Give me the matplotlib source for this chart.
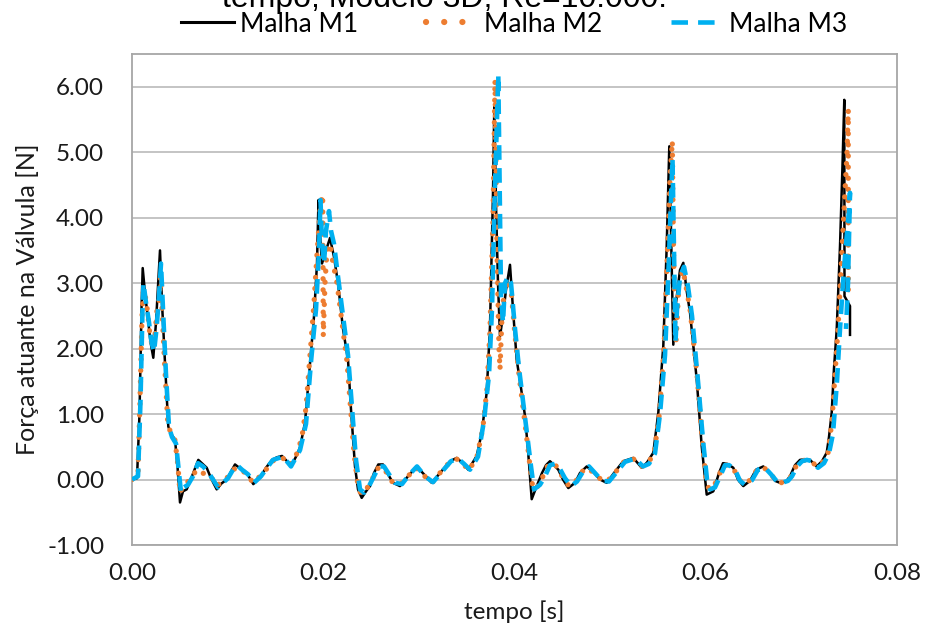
import matplotlib
matplotlib.use('Agg')
import matplotlib.pyplot as plt
from matplotlib.lines import Line2D

# Data (pixel x -> time [s], force [N])
px_m1 = [132, 137, 139.5, 141.5, 142.7, 145, 148, 150.5, 153.3, 156, 158.5, 160, 162, 165, 168.3, 171, 175,
         177.5, 180, 183, 186.7, 192, 198.3, 202.5, 206.7, 211, 216.7, 221.5, 226.7, 231, 235, 241, 246.7,
         253.3, 260, 266, 272, 277, 282, 287, 291, 296, 300, 305, 310, 314, 317, 318.5, 320, 322, 325, 330,
         334, 338, 343, 348, 351, 355, 358, 361.7, 366, 370, 374, 378.3, 383, 388, 393, 400, 408, 416.7, 424,
         431.7, 440, 450, 456.7, 462, 468.3, 476.7, 481.7, 486.7, 490, 493, 494.3, 496, 498, 500, 503, 506,
         510, 513, 516.7, 521, 525, 528, 531.7, 536.7, 542, 546, 550, 554, 558.3, 563, 568.3, 575, 580,
         586.7, 593, 600, 606.7, 615, 623.3, 633.3, 641.7, 647, 653.3, 658.3, 663.3, 666.7, 669.3, 671,
         673.3, 676, 680, 683.3, 686.5, 690, 696.7, 701.7, 706.7, 713.3, 719, 723, 727, 733.3, 738, 743.3,
         750, 756, 763.3, 770, 775, 780, 786, 790, 795, 800, 805, 810, 816.7, 822, 826.7, 829, 831.7, 834,
         836.7, 840, 842.5, 844.3, 844.5, 850, 850]
f_m1 = [0.00, 0.02, 1.00, 2.60, 3.23, 2.85, 2.45, 2.10, 1.86, 2.40, 3.10, 3.50, 2.70, 1.78, 0.81, 0.70, 0.61,
        0.20, -0.35, -0.18, -0.15, 0.05, 0.30, 0.24, 0.18, 0.02, -0.15, -0.06, 0.00, 0.12, 0.23, 0.16, 0.10,
        -0.07, 0.03, 0.18, 0.30, 0.34, 0.36, 0.28, 0.20, 0.35, 0.49, 0.87, 1.78, 2.49, 3.30, 4.27, 3.75, 3.30,
        3.45, 3.69, 3.40, 3.00, 2.30, 1.83, 1.07, 0.20, -0.15, -0.28, -0.18, -0.10, 0.10, 0.23, 0.23, 0.08,
        -0.05, -0.10, 0.05, 0.20, 0.08, -0.05, 0.10, 0.28, 0.33, 0.26, 0.15, 0.36, 0.71, 1.33, 2.34, 4.38,
        5.70, 4.20, 3.00, 2.19, 2.50, 2.90, 3.28, 2.60, 1.83, 1.40, 0.97, 0.45, -0.30, -0.10, 0.10, 0.22,
        0.28, 0.22, 0.15, 0.00, -0.13, -0.05, 0.10, 0.20, 0.12, 0.00, -0.05, 0.12, 0.28, 0.33, 0.18, 0.26,
        0.41, 1.02, 2.04, 3.56, 5.09, 3.80, 2.06, 2.70, 3.20, 3.31, 2.90, 2.55, 1.53, 0.51, -0.23, -0.18,
        0.10, 0.25, 0.24, 0.18, 0.00, -0.10, -0.02, 0.15, 0.20, 0.10, -0.02, -0.05, -0.03, 0.05, 0.22, 0.30,
        0.31, 0.30, 0.20, 0.28, 0.41, 0.65, 1.02, 1.70, 2.29, 3.56, 4.80, 5.80, 2.80, 2.65, 2.21]

px_m2 = [132, 138, 140, 142, 143.5, 146, 148, 150, 153, 155, 157, 159, 160.5, 162, 164.5, 168, 172, 175, 178,
         180, 183, 187, 192, 197, 202, 207, 212, 216, 221, 226, 231, 236, 241, 247, 253, 260, 266, 272, 282,
         290, 297, 302, 306, 310, 314, 317, 320.5, 322.7, 323.3, 325, 327, 330, 333, 337, 342, 347, 350, 354,
         358, 361, 366, 371, 376, 381, 386, 392, 400, 408, 416, 424, 432, 441, 450, 457, 463, 469, 477, 483,
         487, 490, 493, 495, 497, 499, 500, 502, 505, 508, 511, 515, 519, 523, 527, 530, 533, 538, 543, 548,
         553, 558, 563, 569, 576, 582, 587, 594, 601, 607, 615, 623, 633, 642, 648, 654, 659, 664, 667, 670,
         672.3, 673.5, 675, 676, 679, 683, 686, 690, 697, 702, 706, 709, 714, 720, 724, 728, 734, 739, 744,
         751, 757, 764, 770, 776, 781, 787, 791, 796, 801, 806, 811, 817, 823, 828, 832, 835, 838, 841, 844,
         847, 848.3, 848.3]
f_m2 = [0.00, 0.10, 1.20, 2.50, 2.90, 2.75, 2.50, 2.20, 2.00, 2.20, 2.60, 2.70, 3.10, 2.60, 1.80, 0.80, 0.70,
        0.60, 0.20, -0.20, -0.10, -0.05, 0.05, 0.15, 0.10, 0.08, 0.02, -0.10, -0.05, 0.00, 0.12, 0.18, 0.15,
        0.08, -0.05, 0.05, 0.15, 0.28, 0.34, 0.22, 0.40, 0.65, 1.10, 1.90, 2.70, 3.45, 4.20, 4.35, 2.19, 3.00,
        3.50, 3.60, 3.30, 3.00, 2.40, 1.80, 1.20, 0.40, -0.10, -0.22, -0.15, -0.05, 0.15, 0.20, 0.12, -0.03,
        -0.08, 0.05, 0.18, 0.06, -0.05, 0.12, 0.27, 0.31, 0.24, 0.14, 0.35, 0.80, 1.40, 2.30, 4.00, 6.10,
        3.50, 2.00, 1.68, 2.50, 3.00, 3.00, 2.90, 2.20, 1.60, 1.10, 0.60, 0.20, -0.15, -0.10, 0.05, 0.22,
        0.25, 0.18, 0.02, -0.10, -0.02, 0.12, 0.18, 0.10, 0.00, -0.03, 0.10, 0.26, 0.32, 0.20, 0.25, 0.40,
        0.95, 2.00, 3.30, 4.60, 5.17, 3.50, 2.30, 2.10, 3.00, 3.20, 2.95, 2.60, 1.60, 0.65, 0.00, -0.15,
        -0.10, 0.10, 0.22, 0.22, 0.15, 0.00, -0.07, 0.00, 0.15, 0.18, 0.10, -0.02, -0.05, -0.02, 0.05, 0.20,
        0.28, 0.30, 0.28, 0.20, 0.27, 0.40, 0.90, 1.60, 2.30, 3.20, 4.10, 5.00, 5.65, 2.90]

px_m3 = [132, 138, 140.5, 142.5, 143.5, 146, 149, 151.5, 154, 156.5, 159, 161, 163, 166, 169, 172, 176, 179,
         181, 184, 188, 193, 198, 203, 208, 213, 218, 223, 228, 233, 237, 242, 248, 254, 261, 267, 273, 283,
         291, 300, 306, 311, 316, 319, 320.5, 322, 324, 326, 329, 331, 334, 338, 343, 348, 352, 356, 360, 364,
         369, 374, 379, 384, 389, 395, 402, 409, 417, 425, 433, 442, 451, 458, 464, 470, 478, 484, 489, 492,
         495, 498.3, 500, 501, 503, 505, 508, 511, 515, 519, 523, 527, 531, 534, 540, 545, 550, 555, 560, 565,
         571, 577, 583, 589, 595, 602, 609, 617, 625, 635, 643, 649, 655, 660, 665, 669, 671, 672.5, 674,
         675.5, 677, 680, 684, 688, 692, 698, 703, 707, 710, 715, 721, 725, 729, 735, 740, 745, 752, 758, 765,
         771, 777, 782, 788, 792, 797, 802, 807, 812, 818, 824, 829, 833, 837, 840, 843, 846, 849, 850, 848,
         846]
f_m3 = [0.00, 0.05, 1.20, 2.60, 3.00, 2.70, 2.40, 2.10, 1.95, 2.30, 2.80, 3.30, 2.60, 1.60, 0.80, 0.65, 0.55,
        0.10, -0.20, -0.12, -0.08, 0.05, 0.25, 0.20, 0.12, 0.00, -0.12, -0.05, 0.02, 0.15, 0.22, 0.15, 0.08,
        -0.05, 0.05, 0.18, 0.30, 0.35, 0.20, 0.45, 0.85, 1.80, 2.60, 3.50, 4.27, 3.60, 3.30, 3.80, 4.10, 3.80,
        3.60, 3.10, 2.50, 1.90, 1.10, 0.30, -0.15, -0.20, -0.10, 0.05, 0.20, 0.20, 0.08, -0.05, -0.07, 0.07,
        0.20, 0.05, -0.04, 0.12, 0.28, 0.32, 0.24, 0.15, 0.35, 0.90, 1.60, 2.60, 4.50, 6.18, 4.00, 2.80, 2.40,
        3.00, 3.10, 3.00, 2.30, 1.70, 1.20, 0.70, 0.20, -0.15, -0.08, 0.05, 0.22, 0.24, 0.16, 0.02, -0.10,
        -0.03, 0.12, 0.20, 0.10, -0.02, -0.03, 0.12, 0.27, 0.32, 0.20, 0.24, 0.40, 1.00, 1.90, 3.40, 4.30,
        4.90, 3.50, 2.10, 2.60, 3.10, 3.25, 2.95, 2.50, 1.50, 0.60, 0.00, -0.15, -0.12, 0.08, 0.22, 0.22,
        0.15, -0.02, -0.08, -0.01, 0.15, 0.18, 0.08, -0.03, -0.05, -0.02, 0.05, 0.20, 0.28, 0.30, 0.28, 0.18,
        0.25, 0.40, 0.70, 1.50, 2.30, 3.00, 3.60, 4.10, 4.38, 3.00, 2.30]

# pixel x -> seconds (0 at px 132, 0.08 at px 897)
t_m1 = [(p - 132) / 9562.5 for p in px_m1]
t_m2 = [(p - 132) / 9562.5 for p in px_m2]
t_m3 = [(p - 132) / 9562.5 for p in px_m3]

yticks = [-1, 0, 1, 2, 3, 4, 5, 6]
xticks = [0.00, 0.02, 0.04, 0.06, 0.08]
labels = ['Malha M1', 'Malha M2', 'Malha M3']

W, H = 926, 633
fig = plt.figure(figsize=(W / 100, H / 100), dpi=100)
ax = fig.add_axes([132 / W, 1 - 545 / H, (897 - 132) / W, (545 - 54) / H])

font = 'Lato'
txt_color = '#1a1a1a'
orange = '#ED7D31'
cyan = '#00B0F0'

ax.plot(t_m1, f_m1, color='black', lw=1.8, zorder=3)
ax.plot(t_m2, f_m2, color=orange, lw=3.8, linestyle=(0, (0.01, 2.1)),
        dash_capstyle='round', zorder=4)
ax.plot(t_m3, f_m3, color=cyan, lw=3.3, linestyle=(0, (3.2, 1.8)),
        dash_capstyle='butt', zorder=5)

ax.set_xlim(0, 0.08)
ax.set_ylim(-1, 6.5)
ax.set_yticks(yticks)
ax.set_xticks(xticks)
ax.set_yticklabels([f'{v:.2f}' for v in yticks], fontsize=17.5, family=font, color=txt_color)
ax.set_xticklabels([f'{v:.2f}' for v in xticks], fontsize=17.5, family=font, color=txt_color)
ax.tick_params(axis='both', length=0)
ax.tick_params(axis='y', pad=20)
ax.tick_params(axis='x', pad=13)
ax.grid(True, axis='y', color='#BFBFBF', lw=1.3, zorder=0)
for s in ax.spines.values():
    s.set_color('#A6A6A6')
    s.set_linewidth(1.3)

ax.set_xlabel('tempo [s]', fontsize=17.5, family=font, color=txt_color, labelpad=12)
ax.set_ylabel('Força atuante na Válvula [N]', fontsize=18, family=font, color=txt_color, labelpad=6)

# title, cut off at the top of the image
fig.text(445 / W, 1 - 7 / H, 'tempo, Modelo 3D, Re=10.000.', fontsize=23,
         family='Liberation Sans', ha='center', va='baseline', color='black')

handles = [
    Line2D([], [], color='black', lw=2.2),
    Line2D([], [], color=orange, lw=4.5, linestyle=(0, (0.01, 2.9)), dash_capstyle='round'),
    Line2D([], [], color=cyan, lw=3.3, linestyle=(0, (3.6, 2.2)), dash_capstyle='butt'),
]
fig.legend(handles, labels, loc='center', bbox_to_anchor=(514.5 / W, 1 - 24 / H), ncol=3,
           frameon=False, prop={'family': font, 'size': 19}, handlelength=2.0,
           handletextpad=0.2, columnspacing=2.6)

fig.savefig('out.png', dpi=100)
